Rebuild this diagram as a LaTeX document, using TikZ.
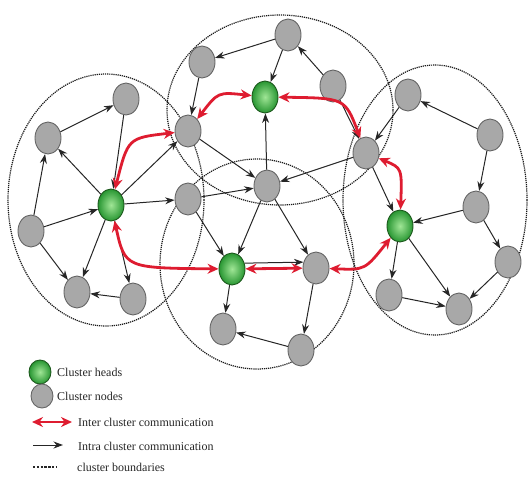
\documentclass[tikz,border=0pt]{standalone}
\usepackage{fontspec}
\setmainfont{Liberation Serif}
\usetikzlibrary{shapes.geometric,arrows.meta}
\definecolor{redc}{RGB}{222,28,48}
\definecolor{grin}{RGB}{160,230,150}
\definecolor{grout}{RGB}{40,150,50}
\definecolor{grbd}{RGB}{30,90,30}
\definecolor{cngray}{RGB}{168,168,168}
\begin{document}
\begin{tikzpicture}[x=1pt,y=-1pt,
  cn/.style={ellipse,draw=black!60,line width=0.9pt,fill=cngray,minimum width=26pt,minimum height=32pt,inner sep=0pt},
  ch/.style={ellipse,draw=grbd,line width=0.9pt,inner color=grin,outer color=grout,minimum width=26pt,minimum height=32pt,inner sep=0pt},
  bnd/.style={draw=black!90,line width=1.2pt,dash pattern=on 1.2pt off 0.9pt},
  intra/.style={draw=black!85,line width=1pt,-{Stealth[length=9.5pt,width=7pt]}},
  inter/.style={draw=redc,line width=2.8pt,{Stealth[length=11pt,width=10pt]}-{Stealth[length=11pt,width=10pt]}},
  lbl/.style={anchor=west,inner sep=0pt,text=black!85,font=\fontsize{12}{14}\selectfont}
]
\useasboundingbox (0,0) rectangle (532,480);

% cluster boundaries
\draw[bnd] (106,200) ellipse [x radius=98pt, y radius=126pt];
\draw[bnd] (280,110) ellipse [x radius=113pt, y radius=95pt];
\draw[bnd] (257,264) ellipse [x radius=97pt, y radius=105pt];
\draw[bnd] (435,200) ellipse [x radius=92pt, y radius=135pt];

% left cluster
\node[cn] (L1) at (126,99) {};
\node[cn] (L2) at (48,138) {};
\node[ch] (G1) at (111,205) {};
\node[cn] (L3) at (31,231) {};
\node[cn] (L4) at (77,292) {};
\node[cn] (L5) at (133,299) {};

% top cluster
\node[cn] (T1) at (288,35) {};
\node[cn] (T2) at (202,62) {};
\node[ch] (G2) at (265,97) {};
\node[cn] (T3) at (333,86) {};
\node[cn] (T4) at (188,131) {};
\node[cn] (T5) at (366,153) {};

% bottom cluster
\node[cn] (M1) at (267,186) {};
\node[cn] (M2) at (188,199) {};
\node[ch] (G3) at (232,269) {};
\node[cn] (B1) at (316,268) {};
\node[cn] (B2) at (223,329) {};
\node[cn] (B3) at (301,350) {};

% right cluster
\node[cn] (R1) at (408,95) {};
\node[cn] (R2) at (490,135) {};
\node[ch] (G4) at (400,226) {};
\node[cn] (R3) at (476,207) {};
\node[cn] (R4) at (508,262) {};
\node[cn] (R5) at (389,295) {};
\node[cn] (R6) at (459,309) {};

% intra cluster communication
\draw[intra] (L2) -- (L1);
\draw[intra] (L1) -- (G1);
\draw[intra] (G1) -- (L2);
\draw[intra] (L3) -- (L2);
\draw[intra] (L3) -- (G1);
\draw[intra] (L3) -- (L4);
\draw[intra] (G1) -- (L4);
\draw[intra] (G1) -- (L5);
\draw[intra] (L5) -- (L4);
\draw[intra] (G1) -- (M2);
\draw[intra] (G1) -- (T4);

\draw[intra] (T1) -- (T2);
\draw[intra] (T1) -- (G2);
\draw[intra] (T3) -- (T1);
\draw[intra] (T2) -- (T4);
\draw[intra] (M1) -- (G2);
\draw[intra] (T4) -- (M1);
\draw[intra] (T5) -- (M1);
\draw[intra] (T3) -- (T5);
\draw[intra] (R1) -- (T5);
\draw[intra] (T5) -- (G4);

\draw[intra] (M2) -- (M1);
\draw[intra] (M2) -- (G3);
\draw[intra] (M1) -- (G3);
\draw[intra] (M1) -- (B1);
\draw[intra] (G3.25) -- (B1.155);
\draw[intra] (G3) -- (B2);
\draw[intra] (B1) -- (B3);
\draw[intra] (B3) -- (B2);

\draw[intra] (R2) -- (R1);
\draw[intra] (R2) -- (R3);
\draw[intra] (R3) -- (G4);
\draw[intra] (R3) -- (R4);
\draw[intra] (R4) -- (R6);
\draw[intra] (G4) -- (R6);
\draw[intra] (G4) -- (R5);
\draw[intra] (R5) -- (R6);

% inter cluster communication
\draw[inter] (G1) .. controls (128,138) .. (T4);
\draw[inter] (G1) .. controls (125,268) .. (G3);
\draw[inter] (T4) .. controls (218,92) .. (G2);
\draw[inter] (G2) .. controls (345,98) .. (T5);
\draw[inter] (T5) .. controls (402,168) .. (G4);
\draw[inter] (G3) -- (B1);
\draw[inter] (B1) .. controls (365,270) .. (G4);

% legend
\node[ch,minimum width=22pt,minimum height=24pt] (lg1) at (40,372) {};
\node[cn,minimum width=22pt,minimum height=24pt] (lg2) at (42,396) {};
\coordinate (ra) at (32,422);
\coordinate (rb) at (72,422);
\coordinate (ba) at (33,445);
\coordinate (bb) at (63,445);
\coordinate (da) at (33,467);
\coordinate (db) at (56,467);
\draw[inter] (ra) -- (rb);
\draw[intra] (ba) -- (bb);
\draw[draw=black!85,line width=2.4pt,dash pattern=on 2.4pt off 1.4pt] (da) -- (db);
\node[lbl] (lt1) at (57,372) {Cluster heads};
\node[lbl] (lt2) at (57,396) {Cluster nodes};
\node[lbl] (lt3) at (78,422) {Inter cluster communication};
\node[lbl] (lt4) at (78,446) {Intra cluster communication};
\node[lbl] (lt5) at (77,467) {cluster boundaries};
\end{tikzpicture}
\end{document}
